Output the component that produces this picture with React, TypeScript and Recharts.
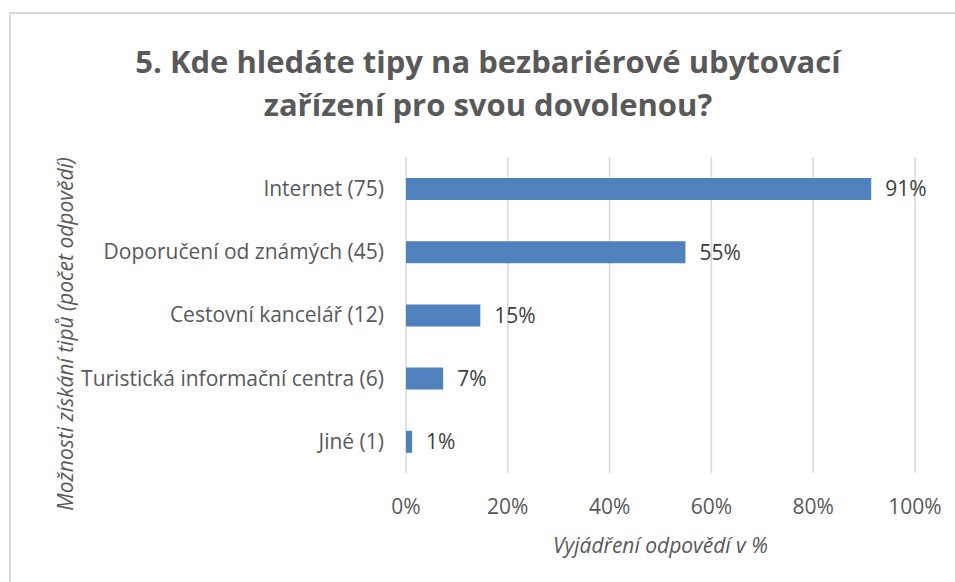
import React, { useEffect } from 'react';
import { BarChart, Bar, XAxis, YAxis, CartesianGrid, LabelList, Label } from 'recharts';

const categories = [
  'Internet (75)',
  'Doporučení od známých (45)',
  'Cestovní kancelář (12)',
  'Turistická informační centra (6)',
  'Jiné (1)',
];
const shares = [91.4, 54.9, 14.6, 7.3, 1.2];
const xTicks = [0, 20, 40, 60, 80, 100];

const TITLE_1 = '5. Kde hledáte tipy na bezbariérové ubytovací';
const TITLE_2 = 'zařízení pro svou dovolenou?';
const X_TITLE = 'Vyjádření odpovědí v %';
const Y_TITLE = 'Možnosti získání tipů (počet odpovědí)';

const FONT = '"Open Sans", "Noto Sans", sans-serif';
const BLUE = '#4f81bd';

const data = categories.map((name, i) => ({ name, value: shares[i] }));

const YTitle = (props: any) => {
  const vb = props.viewBox || { y: 157, height: 316 };
  const x = 65;
  const y = vb.y + vb.height / 2 + 19;
  return (
    <text
      x={x}
      y={y}
      transform={`rotate(-90 ${x} ${y})`}
      textAnchor="middle"
      dominantBaseline="central"
      fontSize={21}
      fontStyle="italic"
      fill="#595959"
      fontFamily={FONT}
    >
      {Y_TITLE}
    </text>
  );
};

export default function App() {
  useEffect(() => {
    document.body.style.margin = '0';
  }, []);

  return (
    <div style={{ position: 'relative', width: 955, height: 582, background: '#fff', fontFamily: FONT }}>
      <div
        style={{
          position: 'absolute',
          left: 9,
          top: 12,
          width: 946,
          height: 570,
          borderTop: '2px solid #d9d9d9',
          borderLeft: '2px solid #d9d9d9',
          boxSizing: 'border-box',
        }}
      />
      <div
        style={{
          position: 'absolute',
          left: 0,
          top: 40,
          width: 976,
          textAlign: 'center',
          fontSize: 31,
          fontWeight: 700,
          color: '#595959',
          lineHeight: '43px',
        }}
      >
        <div>{TITLE_1}</div>
        <div>{TITLE_2}</div>
      </div>
      <div style={{ position: 'absolute', left: 0, top: 0 }}>
        <BarChart
          width={955}
          height={582}
          data={data}
          layout="vertical"
          margin={{ top: 157, right: 40, bottom: 0, left: 0 }}
          barSize={22}
        >
          <CartesianGrid horizontal={false} vertical stroke="#d9d9d9" strokeWidth={1.5} />
          <XAxis
            type="number"
            domain={[0, 100]}
            ticks={xTicks}
            axisLine={false}
            tickLine={false}
            tickFormatter={(v: number) => `${v}%`}
            tick={{ fontSize: 21, fill: '#595959', fontFamily: FONT }}
            tickMargin={20}
            height={109}
          >
            <Label
              value={X_TITLE}
              position="insideTop"
              offset={65}
              style={{ fontSize: 21, fill: '#595959', fontStyle: 'italic', fontFamily: FONT }}
            />
          </XAxis>
          <YAxis
            type="category"
            dataKey="name"
            width={406}
            axisLine={false}
            tickLine={false}
            tick={{ fontSize: 21, fill: '#595959', fontFamily: FONT }}
            tickMargin={16}
          >
            <Label content={YTitle} />
          </YAxis>
          <Bar dataKey="value" fill={BLUE} isAnimationActive={false}>
            <LabelList
              dataKey="value"
              position="right"
              offset={14}
              formatter={(v: number) => `${Math.round(v)}%`}
              style={{ fontSize: 21, fill: '#404040', fontFamily: FONT }}
            />
          </Bar>
        </BarChart>
      </div>
    </div>
  );
}
